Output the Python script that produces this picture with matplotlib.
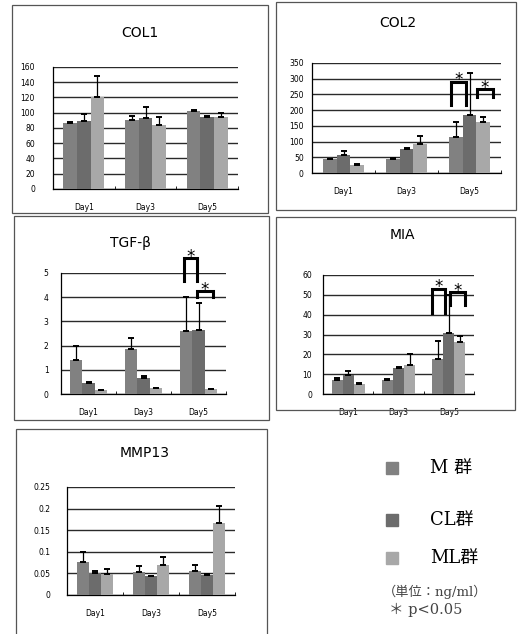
import matplotlib
matplotlib.use("Agg")
import matplotlib.pyplot as plt
from matplotlib.patches import Rectangle
import numpy as np

days = ["Day1", "Day3", "Day5"]
groups = ["M 群", "CL群", "ML群"]

# means and upper error (SD) per group, per day
col1_m = [86, 91, 102]
col1_cl = [89.6, 92.6, 95]
col1_ml = [120, 83.5, 94]
col1_m_err = [2, 5.2, 1.5]
col1_cl_err = [9.4, 15.2, 0.5]
col1_ml_err = [28, 11.3, 6]

col2_m = [45, 46, 113]
col2_cl = [58, 77, 184]
col2_ml = [26, 93, 162]
col2_m_err = [1, 0.5, 48]
col2_cl_err = [10.5, 4, 134]
col2_ml_err = [4, 25, 17]

tgf_m = [1.4, 1.87, 2.62]
tgf_cl = [0.46, 0.67, 2.65]
tgf_ml = [0.15, 0.23, 0.2]
tgf_m_err = [0.58, 0.46, 1.38]
tgf_cl_err = [0.03, 0.08, 1.1]
tgf_ml_err = [0.03, 0.03, 0.02]

mia_m = [6.9, 7.2, 17.8]
mia_cl = [9.4, 13, 30.7]
mia_ml = [5.2, 14.4, 26]
mia_m_err = [1.1, 0.3, 8.7]
mia_cl_err = [2, 0.6, 19.3]
mia_ml_err = [0.3, 5.6, 3.3]

mmp_m = [0.077, 0.054, 0.056]
mmp_cl = [0.05, 0.044, 0.046]
mmp_ml = [0.048, 0.069, 0.167]
mmp_m_err = [0.023, 0.014, 0.013]
mmp_cl_err = [0.006, 0.001, 0.002]
mmp_ml_err = [0.013, 0.018, 0.039]

colors = ["#818181", "#6c6c6c", "#a8a8a8"]

W, H = 519, 634
fig = plt.figure(figsize=(W / 100, H / 100), dpi=100)
fig.patch.set_facecolor("white")


def px(l, t, r, b):
    return [l / W, 1 - b / H, (r - l) / W, (b - t) / H]


# panel frames
for l, t, r, b in [(12, 5, 268, 213), (276, 2, 516, 210), (14, 216, 269, 420),
                   (276, 217, 515, 410), (16, 429, 267, 640)]:
    fig.add_artist(Rectangle((l / W, 1 - b / H), (r - l) / W, (b - t) / H,
                             transform=fig.transFigure, fill=False,
                             edgecolor="#555555", lw=0.9))


def panel(rect, title, title_xy, series, errs, ymax, step, ypad, brackets=()):
    ax = fig.add_axes(px(*rect))
    x = np.arange(len(days))
    w = 0.22
    for i, (vals, err) in enumerate(zip(series, errs)):
        xi = x + (i - 1) * w
        ax.bar(xi, vals, w, color=colors[i], zorder=3)
        ax.errorbar(xi, vals, yerr=[np.zeros(len(vals)), err], fmt="none",
                    ecolor="black", elinewidth=0.9, capsize=2.5, capthick=1.4,
                    zorder=4)
    ax.set_xlim(-0.5, len(days) - 0.5)
    ax.set_ylim(0, ymax)
    ticks = np.arange(0, ymax + step / 2, step)
    ax.set_yticks(ticks)
    ax.set_yticklabels([f"{t:g}" for t in ticks], fontsize=5.5)
    ax.set_xticks(x)
    ax.set_xticklabels(days, fontsize=5.5)
    ax.set_xticks(np.arange(-0.5, len(days)), minor=True)
    ax.tick_params(axis="x", which="major", length=0, pad=10)
    ax.tick_params(axis="x", which="minor", length=2.5, direction="in")
    ax.tick_params(axis="y", length=0, pad=ypad)
    ax.yaxis.grid(True, color="#2a2a2a", lw=1.0, zorder=0)
    ax.set_axisbelow(True)
    for s in ["top", "right"]:
        ax.spines[s].set_visible(False)
    for s in ["left", "bottom"]:
        ax.spines[s].set_linewidth(0.9)
    fig.text(title_xy[0] / W, 1 - title_xy[1] / H, title, fontsize=10,
             ha="center", va="center")
    for x1, x2, top, bot in brackets:
        ax.plot([2 + x1, 2 + x1, 2 + x2, 2 + x2], [bot, top, top, bot],
                color="black", lw=2.2, clip_on=False, zorder=5,
                solid_joinstyle="miter")
        ax.annotate("*", (2 + (x1 + x2) / 2, top), xytext=(0, 1),
                    textcoords="offset points", fontsize=12, ha="center",
                    va="center", annotation_clip=False, zorder=6)
    return ax


panel((53, 67, 238, 189), "COL1", (140, 33),
      [col1_m, col1_cl, col1_ml], [col1_m_err, col1_cl_err, col1_ml_err],
      160, 20, 13)
panel((312, 63, 501, 173), "COL2", (398, 23),
      [col2_m, col2_cl, col2_ml], [col2_m_err, col2_cl_err, col2_ml_err],
      350, 50, 6,
      brackets=[(-0.29, -0.06, 290, 216), (0.12, 0.37, 267, 242)])
panel((61, 273, 226, 394), "TGF-β", (130, 243),
      [tgf_m, tgf_cl, tgf_ml], [tgf_m_err, tgf_cl_err, tgf_ml_err],
      5, 1, 9,
      brackets=[(-0.26, -0.03, 5.62, 4.67), (-0.03, 0.26, 4.25, 4.0)])
panel((323, 275, 474, 394), "MIA", (402, 235),
      [mia_m, mia_cl, mia_ml], [mia_m_err, mia_cl_err, mia_ml_err],
      60, 10, 8,
      brackets=[(-0.33, -0.08, 53, 41), (0.02, 0.32, 51.4, 45)])
panel((67, 487, 235, 595), "MMP13", (145, 453),
      [mmp_m, mmp_cl, mmp_ml], [mmp_m_err, mmp_cl_err, mmp_ml_err],
      0.25, 0.05, 12)

# legend
serif = ["DejaVu Serif", "Noto Sans CJK JP"]
for g, c, y in zip(groups, colors, [468, 520, 558]):
    fig.add_artist(Rectangle((386 / W, 1 - (y + 6) / H), 12 / W, 12 / H,
                             transform=fig.transFigure, color=c))
    fig.text(430 / W, 1 - y / H, g, fontsize=13, family=serif, va="center")
fig.text(435 / W, 1 - 592 / H, "（単位：ng/ml）", fontsize=9.5, family=serif,
         ha="center", va="center", color="#444444")
fig.text(426 / W, 1 - 610 / H, "＊ p<0.05", fontsize=10.5, family=serif,
         ha="center", va="center", color="#444444")

fig.savefig("out.png", dpi=100)
